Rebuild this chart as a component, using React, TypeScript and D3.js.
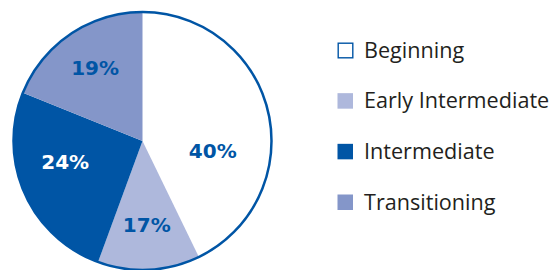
import { useMemo } from "react";
import * as d3 from "d3";

const WIDTH = 553;
const HEIGHT = 270;

// slice shares as drawn (angles), labels as printed
const categories = ["Beginning", "Early Intermediate", "Intermediate", "Transitioning"];
const shares = [42.8, 12.8, 25.5, 18.9];
const pctLabels = ["40%", "17%", "24%", "19%"];

const BLUE = "#0055a5";
const fills = ["#ffffff", "#aeb8dc", "#0055a5", "#8496c9"];
const labelColors = [BLUE, BLUE, "#ffffff", BLUE];

// label placement: [radius, angle nudge in degrees]
const LABEL_LAYOUT: [number, number][] = [
  [71, 21],
  [84, 0],
  [80, 9],
  [87, 1],
];

const CX = 142.5;
const CY = 141;
const R = 129;

export default function App() {
  const arcs = useMemo(() => {
    const pie = d3.pie<number>().sort(null).value((d) => d);
    return pie(shares);
  }, []);

  const arcGen = d3.arc<d3.PieArcDatum<number>>().innerRadius(0).outerRadius(R);

  const legendY = d3
    .scalePoint<string>()
    .domain(categories)
    .range([50, 202]);

  return (
    <svg
      width={WIDTH}
      height={HEIGHT}
      style={{ position: "absolute", left: 0, top: 0, background: "#fff" }}
    >
      <g transform={`translate(${CX},${CY})`}>
        {arcs.map((a, i) => (
          <path key={i} d={arcGen(a) || ""} fill={fills[i]} stroke="none" />
        ))}
        <circle r={R} fill="none" stroke={BLUE} strokeWidth={2.5} />
        {arcs.map((a, i) => {
          const [lr, nudge] = LABEL_LAYOUT[i];
          const ang = (a.startAngle + a.endAngle) / 2 + (nudge * Math.PI) / 180;
          return (
            <text
              key={i}
              x={lr * Math.sin(ang)}
              y={-lr * Math.cos(ang)}
              dy="0.36em"
              textAnchor="middle"
              fontFamily="DejaVu Sans"
              fontWeight="bold"
              fontSize={20}
              fill={labelColors[i]}
            >
              {pctLabels[i]}
            </text>
          );
        })}
      </g>
      <g>
        {categories.map((c, i) => {
          const y = legendY(c) as number;
          return (
            <g key={c}>
              <rect
                x={i === 0 ? 338.2 : 337.5}
                y={y - 7.5 + (i === 0 ? 0.7 : 0)}
                width={i === 0 ? 14.6 : 15.5}
                height={i === 0 ? 14.6 : 15.5}
                fill={fills[i]}
                stroke={i === 0 ? BLUE : "none"}
                strokeWidth={1.4}
              />
              <text
                x={364}
                y={y + 7.5}
                fontFamily="Open Sans"
                fontSize={21.6}
                fill="#231f20"
              >
                {c}
              </text>
            </g>
          );
        })}
      </g>
    </svg>
  );
}
